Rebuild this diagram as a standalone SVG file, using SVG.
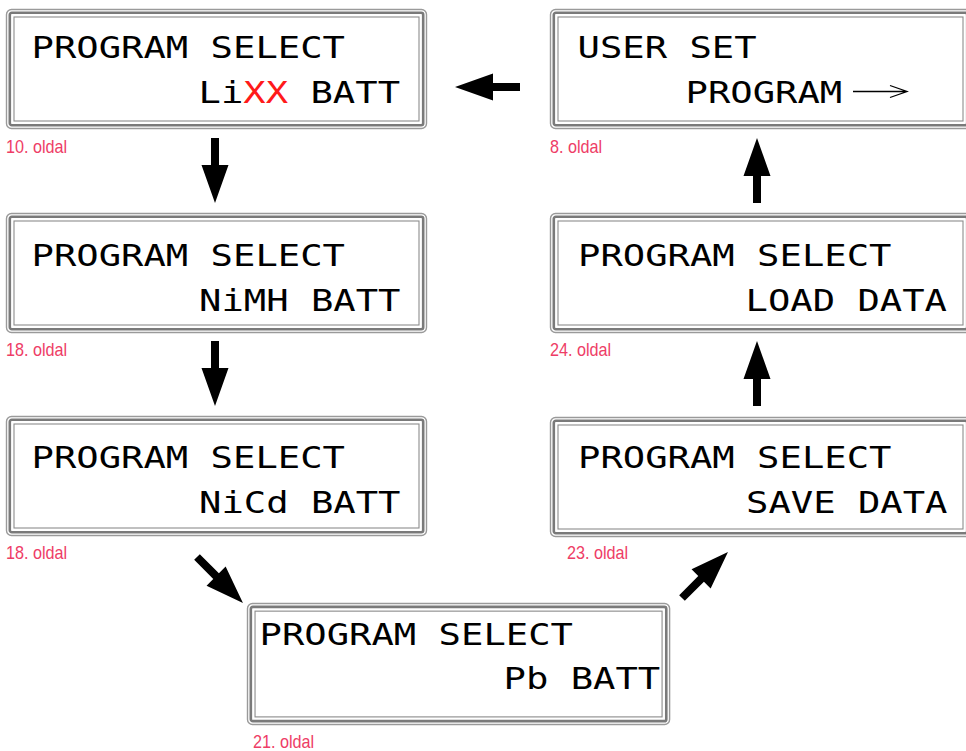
<svg xmlns="http://www.w3.org/2000/svg" width="966" height="751" viewBox="0 0 966 751">
  <style>
    .f-out { fill: none; stroke: #9a9a9a; stroke-width: 1.4; }
    .f-band { fill: none; stroke: #7a7a7a; stroke-width: 2.6; }
    .f-in { fill: none; stroke: #8c8c8c; stroke-width: 1.1; }
    .lcd { font-family: "DejaVu Sans Mono", "Liberation Mono", monospace; font-size: 30px; fill: #000; }
    .red { fill: #ff1a1a; }
    .page { font-family: "Liberation Sans", "DejaVu Sans", sans-serif; font-size: 18px; fill: #ee3d66; }
    .arrow { fill: #000; }
  </style>
  <defs>
    <!-- LCD frame: outer rounded line, thick band, inner line -->
    <g id="frame">
      <rect class="f-out" x="0.5" y="0.5" width="420" height="119" rx="5"/>
      <rect class="f-band" x="3.8" y="3.8" width="413.4" height="112.4" rx="2"/>
      <rect class="f-in" x="8" y="8" width="405" height="104"/>
    </g>
    <!-- block arrow pointing along +x, tail at origin -->
    <path id="blk" d="M0,-4 L27,-4 L27,-13.5 L65,0 L27,13.5 L27,4 L0,4 Z"/>
  </defs>

  <!-- connectors -->
  <g id="connectors" class="arrow">
    <use href="#blk" transform="translate(520,87) rotate(180)"/>
    <use href="#blk" transform="translate(215,138) rotate(90)"/>
    <use href="#blk" transform="translate(215,341) rotate(90)"/>
    <use href="#blk" transform="translate(197,557) rotate(45)"/>
    <use href="#blk" transform="translate(682,598) rotate(-45)"/>
    <use href="#blk" transform="translate(757,406) rotate(-90)"/>
    <use href="#blk" transform="translate(757,203) rotate(-90)"/>
  </g>

  <!-- Li battery -->
  <g id="lixx">
    <use href="#frame" x="6" y="9"/>
    <text class="lcd" transform="translate(31.5,57.5) scale(1.24,1)">PROGRAM SELECT</text>
    <text class="lcd" transform="translate(198.5,102.5) scale(1.24,1)">Li<tspan class="red">XX</tspan> BATT</text>
    <text class="page" transform="translate(6,153) scale(0.9,1)">10. oldal</text>
  </g>

  <!-- user set program -->
  <g id="userset">
    <use href="#frame" x="550" y="9"/>
    <text class="lcd" transform="translate(577.5,57.5) scale(1.24,1)">USER SET</text>
    <text class="lcd" transform="translate(685.5,102.5) scale(1.24,1)">PROGRAM</text>
    <path d="M853,91.5 H906 M890,85.5 L907,91.5 L890,97.5" fill="none" stroke="#000" stroke-width="1.3"/>
    <text class="page" transform="translate(550,153) scale(0.9,1)">8. oldal</text>
  </g>

  <!-- NiMH battery -->
  <g id="nimh">
    <use href="#frame" x="6" y="213"/>
    <text class="lcd" transform="translate(31.5,265.5) scale(1.24,1)">PROGRAM SELECT</text>
    <text class="lcd" transform="translate(199,310.5) scale(1.24,1)">NiMH BATT</text>
    <text class="page" transform="translate(6,356) scale(0.9,1)">18. oldal</text>
  </g>

  <!-- load data -->
  <g id="load">
    <use href="#frame" x="550" y="213"/>
    <text class="lcd" transform="translate(578,265.5) scale(1.24,1)">PROGRAM SELECT</text>
    <text class="lcd" transform="translate(745.5,310.5) scale(1.24,1)">LOAD DATA</text>
    <text class="page" transform="translate(550,356) scale(0.9,1)">24. oldal</text>
  </g>

  <!-- NiCd battery -->
  <g id="nicd">
    <use href="#frame" x="6" y="416"/>
    <text class="lcd" transform="translate(31.5,467.5) scale(1.24,1)">PROGRAM SELECT</text>
    <text class="lcd" transform="translate(199,512.5) scale(1.24,1)">NiCd BATT</text>
    <text class="page" transform="translate(6,559) scale(0.9,1)">18. oldal</text>
  </g>

  <!-- save data -->
  <g id="save">
    <use href="#frame" x="550" y="417"/>
    <text class="lcd" transform="translate(578,467.5) scale(1.24,1)">PROGRAM SELECT</text>
    <text class="lcd" transform="translate(746,512.5) scale(1.24,1)">SAVE DATA</text>
    <text class="page" transform="translate(567,559) scale(0.9,1)">23. oldal</text>
  </g>

  <!-- Pb battery -->
  <g id="pb">
    <g transform="translate(247,603) scale(1.005,1.017)">
      <use href="#frame"/>
    </g>
    <text class="lcd" transform="translate(259.5,644.5) scale(1.24,1)">PROGRAM SELECT</text>
    <text class="lcd" transform="translate(503.5,688.5) scale(1.24,1)">Pb BATT</text>
    <text class="page" transform="translate(253,747.5) scale(0.9,1)">21. oldal</text>
  </g>
</svg>
